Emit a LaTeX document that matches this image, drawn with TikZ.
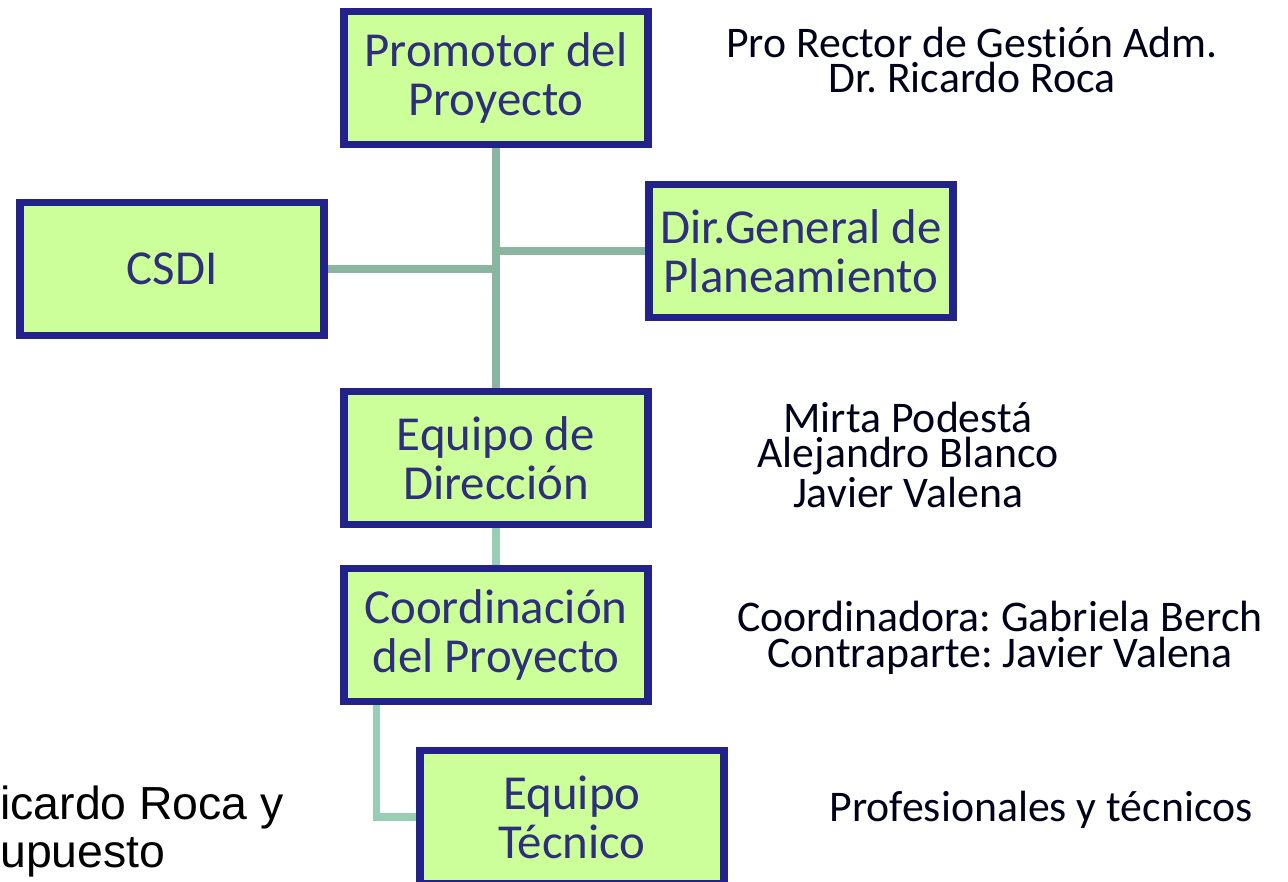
\documentclass[tikz,border=0pt]{standalone}
\usepackage{fontspec}
\setmainfont{Carlito}[Ligatures={TeX,NoCommon}]
\newfontfamily\arialfont{Liberation Sans}
\usetikzlibrary{positioning}
\frenchspacing

\definecolor{boxfill}{HTML}{CCFF99}
\definecolor{boxline}{HTML}{22228A}
\definecolor{boxtext}{HTML}{2E2E7A}
\definecolor{linkgreen}{HTML}{8AB5A0}
\definecolor{linklight}{HTML}{9ACDB5}

\tikzset{
  orgbox/.style={draw=boxline,fill=boxfill,line width=4.5pt,text=boxtext,align=center,
    minimum width=6.08cm,minimum height=2.66cm,inner sep=0pt,
    font=\fontsize{27.8}{27.8}\selectfont},
  namenote/.style={align=center,inner sep=0pt,text=black!90!blue,
    font=\fontsize{24.9}{20.2}\selectfont},
  link/.style={draw=linkgreen,line width=4pt},
  linklite/.style={draw=linklight,line width=4pt}
}

\begin{document}
\begin{tikzpicture}[x=0.02cm,y=-0.02cm]
\useasboundingbox (0,0) rectangle (1288,882);

% boxes
\node[orgbox] (promotor) at (496,78) {Promotor del\\Proyecto};
\node[orgbox] (csdi) at (172,269) {CSDI};
\node[orgbox] (dirgen) at (801,251) {Dir.General de\\Planeamiento};
\node[orgbox] (direccion) at (496,458) {Equipo de\\Dirección};
\node[orgbox] (coord) at (496,635) {Coordinación\\del Proyecto};
\node[orgbox] (tecnico) at (572,817) {Equipo\\Técnico};

% names at the right
\node[namenote] (rector) at (972,60) {Pro Rector de Gestión Adm.\\Dr. Ricardo Roca};
\node[namenote] (dirnames) at (908,455) {Mirta Podestá\\Alejandro Blanco\\Javier Valena};
\node[namenote] (coordnames) at (1000,638) {Coordinadora: Gabriela Berch\\Contraparte: Javier Valena};
\node[namenote] (tecnames) at (1041,810) {Profesionales y técnicos};

% cut text at the bottom left
\node[anchor=north west,align=left,inner sep=0pt,font=\arialfont\fontsize{26.4}{27.2}\selectfont]
  (corte) at (0,786) {icardo Roca y\\upuesto};

% connectors
\draw[link] (promotor.south) -- (direccion.north);
\draw[link] (csdi.east) -- (csdi.east -| promotor.south);
\draw[link] (dirgen.west) -- (dirgen.west -| promotor.south);
\draw[linklite] (direccion.south) -- (coord.south |- coord.north);
\coordinate (ctbend) at ([xshift=0.72cm]coord.south west);
\draw[linklite] (ctbend) |- (tecnico.west);
\end{tikzpicture}
\end{document}
